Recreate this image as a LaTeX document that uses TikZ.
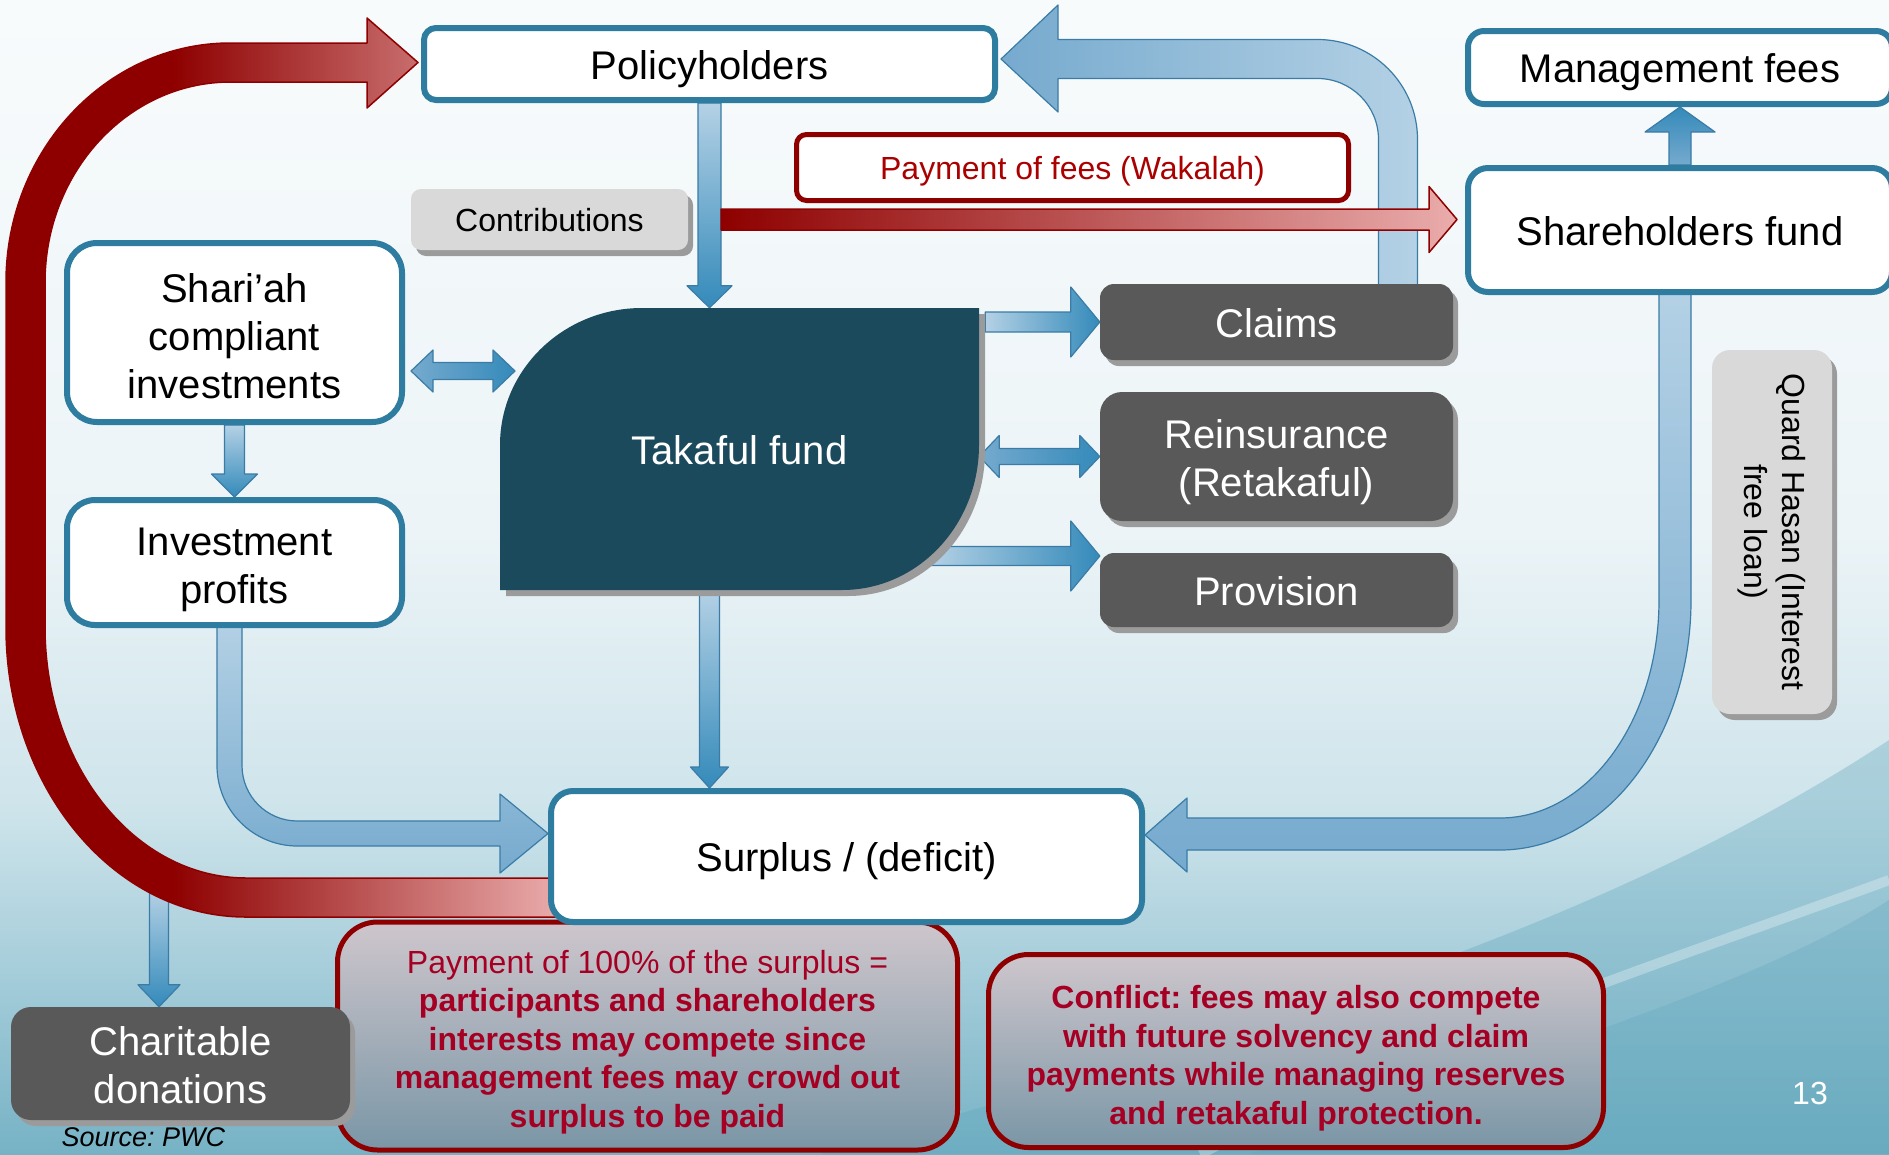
\documentclass[tikz,border=0pt]{standalone}
\usepackage{fontspec}
\setmainfont{Liberation Sans}
\usetikzlibrary{calc,shadows}
\pgfdeclarelayer{backdrop}
\pgfdeclarelayer{flows}
\pgfsetlayers{backdrop,flows,main}

\definecolor{boxblue}{RGB}{46,125,160}
\definecolor{fundteal}{RGB}{27,74,92}
\definecolor{boxgrey}{RGB}{89,89,89}
\definecolor{shadowgrey}{RGB}{155,155,155}
\definecolor{tagfill}{RGB}{217,217,217}
\definecolor{wred}{RGB}{142,0,0}
\definecolor{wpink}{RGB}{234,172,172}
\definecolor{feered}{RGB}{170,0,0}
\definecolor{notered}{RGB}{165,0,35}
\definecolor{notetop}{RGB}{206,198,204}
\definecolor{notebot}{RGB}{122,150,166}
\definecolor{arrowpale}{RGB}{180,209,229}
\definecolor{arrowmid}{RGB}{118,170,206}
\definecolor{arrowdeep}{RGB}{52,138,186}
\definecolor{arrowedge}{RGB}{58,124,166}
\definecolor{bgtop}{RGB}{248,251,252}
\definecolor{bglight}{RGB}{236,244,247}
\definecolor{bgmid}{RGB}{206,228,235}
\definecolor{bgmiddeep}{RGB}{160,202,216}
\definecolor{bgdeep}{RGB}{118,178,197}
\definecolor{bgteal}{RGB}{96,166,188}

% slide background, darker towards the bottom
\pgfdeclareverticalshading{slidebg}{100bp}{color(0bp)=(bgdeep); color(25bp)=(bgdeep); color(32bp)=(bgmiddeep); color(40bp)=(bgmid); color(52bp)=(bglight); color(75bp)=(bgtop); color(100bp)=(bgtop)}
% surplus sweep: dark red on the left, fading to pink on the right
\pgfdeclarehorizontalshading{redsweep}{100bp}{color(0bp)=(wred); color(40bp)=(wred); color(75bp)=(wpink); color(100bp)=(wpink)}

% fixed line height and depth so that one-line box texts sit at the same level
\newcommand\bxstrut{\rule[-0.25em]{0pt}{1.27em}}

% straight block arrow: [style]{from}{to}{shaft half-width}{head half-width}{head length}
\newcommand\blockarrow[6][]{%
  \coordinate (ba-neck) at ($(#3)!#6pt!(#2)$);
  \path[#1] ($(#2)!#4pt!90:(#3)$) -- ($(ba-neck)!#4pt!90:(#3)$)
    -- ($(ba-neck)!#5pt!90:(#3)$) -- (#3) -- ($(ba-neck)!#5pt!-90:(#3)$)
    -- ($(ba-neck)!#4pt!-90:(#3)$) -- ($(#2)!#4pt!-90:(#3)$) -- cycle;}
% two-headed block arrow with the same arguments
\newcommand\twowayarrow[6][]{%
  \coordinate (da-neckA) at ($(#2)!#6pt!(#3)$);
  \coordinate (da-neckB) at ($(#3)!#6pt!(#2)$);
  \path[#1] (#2) -- ($(da-neckA)!#5pt!90:(#3)$) -- ($(da-neckA)!#4pt!90:(#3)$)
    -- ($(da-neckB)!#4pt!90:(#3)$) -- ($(da-neckB)!#5pt!90:(#3)$) -- (#3)
    -- ($(da-neckB)!#5pt!-90:(#3)$) -- ($(da-neckB)!#4pt!-90:(#3)$)
    -- ($(da-neckA)!#4pt!-90:(#3)$) -- ($(da-neckA)!#5pt!-90:(#3)$) -- cycle;}

\begin{document}
\frenchspacing
\begin{tikzpicture}[x=1pt,y=-1pt,
  bigtxt/.style={font=\fontsize{40}{48}\selectfont},
  smalltxt/.style={font=\fontsize{32}{38.5}\selectfont},
  struts/.style={execute at begin node=\bxstrut, execute at end node=\bxstrut},
  bluebox/.style={draw=boxblue, line width=6pt, fill=white, rounded corners=14pt,
    align=center, inner sep=0pt, bigtxt, struts},
  darkbox/.style={fill=boxgrey, rounded corners=14pt, text=white, align=center,
    inner sep=0pt, bigtxt, struts,
    drop shadow={shadow xshift=5pt, shadow yshift=-6pt, fill=shadowgrey, opacity=1}},
  tagbox/.style={fill=tagfill, rounded corners=10pt, inner sep=0pt, smalltxt,
    drop shadow={shadow xshift=5pt, shadow yshift=-6pt, fill=shadowgrey, opacity=1}},
  feebox/.style={draw=wred, line width=5pt, fill=white, rounded corners=10pt,
    text=feered, inner sep=0pt, smalltxt, struts},
  notebox/.style={draw=wred, line width=5pt, rounded corners=40pt,
    top color=notetop, bottom color=notebot, inner sep=0pt},
  boxtext/.style={align=center, inner sep=0pt, bigtxt},
  notetext/.style={align=center, inner sep=0pt, smalltxt, text=notered},
  flowarrow/.style={draw=arrowedge, line width=1.2pt, line join=round},
  feearrow/.style={draw=wred, line width=1.5pt, line join=round},
]
\useasboundingbox (0,0) rectangle (1889,1154);

% ---------- background ----------
\begin{pgfonlayer}{backdrop}
  \shade[shading=slidebg] (0,0) rectangle (1889,1154);
  \fill[bgteal, opacity=0.35] (820,1154) .. controls (1250,1030) and (1600,930) .. (1889,740)
    -- (1889,1154) -- cycle;
  \fill[bgteal, opacity=0.3] (1250,1154) .. controls (1500,1060) and (1750,990) .. (1889,900)
    -- (1889,1154) -- cycle;
  \draw[white, opacity=0.3, line width=10pt] (1200,1154) .. controls (1450,1030) and (1700,950) .. (1889,880);
\end{pgfonlayer}

% ---------- boxes ----------
\node[bluebox, minimum width=571pt, minimum height=72pt, rounded corners=12pt] (policy) at (709.5,64) {Policyholders};
\node[bluebox, minimum width=424pt, minimum height=73pt, rounded corners=16pt] (mgmt) at (1680,67.5) {Management fees};
\node[bluebox, minimum width=424pt, minimum height=124pt, rounded corners=20pt] (share) at (1680,230) {Shareholders fund};
\node[feebox, minimum width=552pt, minimum height=66pt] (wakalah) at (1072.5,167.5) {Payment of fees (Wakalah)};
\node[tagbox, struts, minimum width=277pt, minimum height=61pt] (contrib) at (549.5,219.5) {Contributions};

\node[bluebox, minimum width=335pt, minimum height=179pt, rounded corners=30pt] (shariah) at (234.5,332.5) {};
\node[boxtext] (shariah-text) at ([yshift=-3.6pt]shariah.center) {Shari’ah\\compliant\\investments};
\node[bluebox, minimum width=335pt, minimum height=125pt, rounded corners=28pt] (invest) at (234.5,562.5) {};
\node[boxtext] (invest-text) at ([yshift=-7pt]invest.center) {Investment\\profits};

% takaful fund: leaf-shaped block with a drop shadow
\fill[shadowgrey, shift={(6,6)}] (500,590) -- (500,445) .. controls (500,369) and (564,308) .. (642,308)
  -- (979,308) -- (979,445) .. controls (979,525) and (918,590) .. (842,590) -- cycle;
\fill[fundteal] (500,590) -- (500,445) .. controls (500,369) and (564,308) .. (642,308)
  -- (979,308) -- (979,445) .. controls (979,525) and (918,590) .. (842,590) -- cycle;
\node[minimum width=479pt, minimum height=282pt, inner sep=0pt, text=white, bigtxt, struts] (takaful) at (739.5,449) {Takaful fund};

\node[darkbox, minimum width=353pt, minimum height=76pt] (claims) at (1276.5,322) {Claims};
\node[darkbox, minimum width=353pt, minimum height=129pt, rounded corners=22pt] (reins) at (1276.5,456.5) {};
\node[boxtext, text=white] (reins-text) at ([yshift=-6pt]reins.center) {Reinsurance\\(Retakaful)};
\node[darkbox, minimum width=353pt, minimum height=74pt] (prov) at (1276.5,590) {Provision};

\node[notebox, minimum width=620pt, minimum height=228pt] (note1) at (647.5,1036) {};
\node[notetext] (note1-text) at ([yshift=-6pt]note1.center)
  {Payment of 100\% of the surplus =\\\textbf{participants and shareholders}\\\textbf{interests may compete since}\\\textbf{management fees may crowd out}\\\textbf{surplus to be paid}};
\node[notebox, minimum width=615pt, minimum height=193pt] (note2) at (1296,1051) {};
\node[notetext, font=\fontsize{32}{38.5}\selectfont\bfseries] (note2-text) at ([yshift=-7.2pt]note2.center)
  {Conflict: fees may also compete\\with future solvency and claim\\payments while managing reserves\\and retakaful protection.};

\node[bluebox, minimum width=591pt, minimum height=131pt, rounded corners=22pt] (surplus) at (846.5,856.5) {Surplus / (deficit)};
\node[darkbox, minimum width=339pt, minimum height=113pt, rounded corners=20pt] (charit) at (180.5,1063.5) {};
\node[boxtext, text=white] (charit-text) at ([yshift=-1.2pt]charit.center) {Charitable\\donations};

\node[tagbox, minimum width=120pt, minimum height=364pt, rounded corners=18pt] (quard) at (1772,532) {};
\node[rotate=-90, align=center, smalltxt] (quardtext) at (quard.center) {Quard Hasan (Interest\\free loan)};

\node[anchor=west, font=\fontsize{27}{32}\selectfont\itshape] (source) at (58,1137) {Source: PWC};
\node[text=white, smalltxt] (pagenum) at (1810,1093) {13};

% ---------- flows ----------
\begin{pgfonlayer}{flows}
  % surplus to charitable donations
  \coordinate (charTip) at ($(charit.north)+(-21.5,0)$);
  \coordinate (charStart) at (charTip |- 0,890);
  \blockarrow[flowarrow, top color=arrowpale, bottom color=arrowdeep]{charStart}{charTip}{9.5}{21}{22}

  % surplus paid back to policyholders
  \path[feearrow, shade, shading=redsweep]
    (560,917) -- (246,917) .. controls (113.4,917) and (6,787.2) .. (6,627)
    -- (6,282.5) .. controls (6,150.2) and (106.5,43) .. (230.5,43)
    -- (367,43) -- (367,18) -- (418,62.5) -- (367,108) -- (367,82)
    -- (230.5,82) .. controls (128.1,82) and (45,171.8) .. (45,282.5)
    -- (45,627) .. controls (45,765.6) and (135,878) .. (246,878)
    -- (560,878) -- cycle;

  % claims experience returned to policyholders
  \path[flowarrow, left color=arrowmid, right color=arrowpale]
    (1417.5,290) -- (1417.5,139.5) .. controls (1417.5,84.3) and (1372.7,39.5) .. (1317.5,39.5)
    -- (1058,39.5) -- (1058,5) -- (1001,59) -- (1058,112) -- (1058,78.5)
    -- (1317.5,78.5) .. controls (1351.2,78.5) and (1378.5,105.8) .. (1378.5,139.5)
    -- (1378.5,290) -- cycle;

  % shareholders fund lends to the surplus (qard hasan)
  \path[flowarrow, top color=arrowpale, bottom color=arrowmid]
    (1691,290) -- (1691,600) .. controls (1691,738) and (1605.5,850) .. (1500,850)
    -- (1187,850) -- (1187,872) -- (1145,835) -- (1187,798) -- (1187,818)
    -- (1500,818) .. controls (1587.8,818) and (1659,720.4) .. (1659,600)
    -- (1659,290) -- cycle;

  % investment profits into the surplus
  \path[flowarrow, top color=arrowpale, bottom color=arrowmid]
    (217,620) -- (217,765.5) .. controls (217,810) and (253,846) .. (297.5,846)
    -- (500,846) -- (500,873) -- (548,833.5) -- (500,794) -- (500,821)
    -- (297.5,821) .. controls (266.8,821) and (242,796.2) .. (242,765.5)
    -- (242,620) -- cycle;

  % contributions into the fund
  \coordinate (contribTip) at (policy.south |- takaful.north);
  \blockarrow[flowarrow, top color=arrowpale, bottom color=arrowdeep]{policy.south}{contribTip}{11.5}{22.5}{22}

  % investments
  \blockarrow[flowarrow, top color=arrowpale, bottom color=arrowdeep]{shariah.south}{invest.north}{10}{23}{23}
  \coordinate (invL) at (411,371);
  \coordinate (invR) at (515,371);
  \twowayarrow[flowarrow, left color=arrowmid, right color=arrowdeep]{invL}{invR}{8.5}{21}{22}

  % fund outflows
  \coordinate (clStart) at ($(takaful.east |- claims.west)+(6,0)$);
  \blockarrow[flowarrow, left color=arrowpale, right color=arrowdeep]{clStart}{claims.west}{10}{35}{29}
  \coordinate (reStart) at (takaful.east |- reins.west);
  \twowayarrow[flowarrow, left color=arrowmid, right color=arrowdeep]{reStart}{reins.west}{8}{21}{20}
  \coordinate (provTip) at ($(prov.west)+(0,-34)$);
  \coordinate (provStart) at ($(takaful.east |- provTip)+(-50,0)$);
  \blockarrow[flowarrow, left color=arrowpale, right color=arrowdeep]{provStart}{provTip}{9.5}{35}{29}

  % fund result to surplus
  \coordinate (resStart) at (policy.south |- takaful.south);
  \coordinate (resTip) at (policy.south |- surplus.north);
  \blockarrow[flowarrow, top color=arrowpale, bottom color=arrowdeep]{resStart}{resTip}{10}{19}{21}

  % shareholders fund to management fees
  \blockarrow[flowarrow, top color=arrowdeep, bottom color=arrowmid]{share.north}{mgmt.south}{11}{35}{25}

  % wakalah fee to shareholders
  \coordinate (wakTail) at (721,219.5);
  \coordinate (wakTip) at ($(share.west)+(-8,-10.5)$);
  \blockarrow[feearrow, left color=wred, right color=wpink]{wakTail}{wakTip}{10.5}{33}{28}
\end{pgfonlayer}
\end{tikzpicture}
\end{document}
